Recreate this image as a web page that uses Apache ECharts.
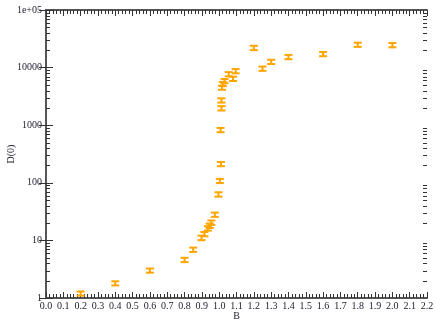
<!DOCTYPE html>
<html>
<head>
<meta charset="utf-8">
<script src="https://cdn.jsdelivr.net/npm/echarts@6/dist/echarts.min.js"></script>
<style>html,body{margin:0;padding:0;background:#fff}#c{width:435px;height:320px}</style>
</head>
<body>
<div id="c"></div>
<script>
// Data
const B = [0.2, 0.4, 0.6, 0.8, 0.85, 0.898, 0.915, 0.935, 0.945, 0.955, 0.975, 0.996, 1.004, 1.01, 1.008, 1.013, 1.013, 1.016, 1.021, 1.031, 1.055, 1.08, 1.095, 1.2, 1.25, 1.3, 1.4, 1.6, 1.8, 2.0];
const D = [1.2, 1.8, 3.0, 4.6, 6.9, 11.1, 12.9, 16.2, 18.0, 20.4, 28, 63, 108, 212, 826, 1970, 2700, 4500, 5200, 5850, 7700, 6400, 8700, 22000, 9600, 12600, 15300, 17200, 25000, 24600];
const DErr = [0.1, 0.15, 0.25, 0.4, 0.6, 1.0, 1.1, 1.4, 1.6, 1.8, 2.4, 5.5, 9, 18, 70, 170, 230, 380, 440, 500, 650, 550, 740, 1900, 820, 1070, 1300, 1450, 2100, 2100];
const xTickLabels = ['0.0','0.1','0.2','0.3','0.4','0.5','0.6','0.7','0.8','0.9','1.0','1.1','1.2','1.3','1.4','1.5','1.6','1.7','1.8','1.9','2.0','2.1','2.2'];
const yMinorTicks = [2,3,4,5,6,7,8,9,20,30,40,50,60,70,80,90,200,300,400,500,600,700,800,900,2000,3000,4000,5000,6000,7000,8000,9000,20000,30000,40000,50000,60000,70000,80000,90000];

const pts = B.map((b, i) => [b, D[i], D[i] - DErr[i], D[i] + DErr[i]]);
const axisCol = '#555';
const font = 'Liberation Serif';

const chart = echarts.init(document.getElementById('c'), null, {renderer: 'canvas'});
chart.setOption({
  animation: false,
  grid: {left: 46, right: 8, top: 10, bottom: 22, containLabel: false, outerBoundsMode: 'none'},
  xAxis: [{
    type: 'value', min: 0, max: 2.2, interval: 0.1, position: 'bottom',
    name: 'B', nameLocation: 'middle', nameGap: 13, nameMoveOverlap: false,
    nameTextStyle: {fontFamily: font, fontSize: 10, color: '#223'},
    axisLine: {lineStyle: {color: axisCol, width: 2}},
    axisTick: {inside: true, length: 6, lineStyle: {color: '#333', width: 1}},
    minorTick: {show: true, splitNumber: 5, length: 4, lineStyle: {color: '#333', width: 1}},
    axisLabel: {margin: 3, fontFamily: font, fontSize: 10, color: '#223',
      formatter: (v) => xTickLabels[Math.round(v * 10)] || ''},
    splitLine: {show: false}
  }, {
    type: 'value', min: 0, max: 2.2, interval: 0.1, position: 'top',
    axisLine: {lineStyle: {color: axisCol, width: 2}},
    axisTick: {inside: true, length: 6, lineStyle: {color: '#333', width: 1}},
    minorTick: {show: true, splitNumber: 5, length: 4, lineStyle: {color: '#333', width: 1}},
    axisLabel: {show: false}, splitLine: {show: false}
  }],
  yAxis: [{
    type: 'log', logBase: 10, min: 1, max: 100000, position: 'left',
    name: 'D(0)', nameLocation: 'middle', nameGap: 30, nameRotate: 90, nameMoveOverlap: false,
    nameTextStyle: {fontFamily: font, fontSize: 10, color: '#223'},
    axisLine: {show: true, lineStyle: {color: axisCol, width: 2}},
    axisTick: {inside: true, length: 7, lineStyle: {color: '#333', width: 1}},
    axisLabel: {margin: 4, fontFamily: font, fontSize: 10, color: '#223',
      showMinLabel: true, showMaxLabel: true,
      formatter: (v) => v >= 100000 ? '1e+05' : String(Math.round(v))},
    splitLine: {show: false}
  }, {
    type: 'log', logBase: 10, min: 1, max: 100000, position: 'right',
    axisLine: {show: true, lineStyle: {color: axisCol, width: 2}},
    axisTick: {inside: true, length: 7, lineStyle: {color: '#333', width: 1}},
    axisLabel: {show: false}, splitLine: {show: false}
  }],
  series: [{
    type: 'custom', xAxisIndex: 0, yAxisIndex: 0, silent: true,
    data: yMinorTicks.map(v => [0, v]),
    renderItem: (params, api) => {
      const cs = params.coordSys;
      const p = api.coord([0, api.value(1)]);
      const y = Math.round(p[1]) + 0.5;
      const st = {stroke: '#333', lineWidth: 1};
      return {type: 'group', children: [
        {type: 'line', shape: {x1: cs.x, y1: y, x2: cs.x + 4, y2: y}, style: st},
        {type: 'line', shape: {x1: cs.x + cs.width - 4, y1: y, x2: cs.x + cs.width, y2: y}, style: st}
      ]};
    },
    z: 1
  }, {
    type: 'custom', xAxisIndex: 0, yAxisIndex: 0,
    data: pts,
    renderItem: (params, api) => {
      const x = api.value(0);
      const c = api.coord([x, api.value(1)]);
      const lo = api.coord([x, api.value(2)]);
      const hi = api.coord([x, api.value(3)]);
      const w = 4;
      const st = {stroke: '#FFA500', lineWidth: 2};
      return {type: 'group', children: [
        {type: 'line', shape: {x1: c[0], y1: lo[1], x2: c[0], y2: hi[1]}, style: st},
        {type: 'line', shape: {x1: c[0] - w, y1: lo[1], x2: c[0] + w, y2: lo[1]}, style: st},
        {type: 'line', shape: {x1: c[0] - w, y1: hi[1], x2: c[0] + w, y2: hi[1]}, style: st}
      ]};
    },
    z: 3
  }]
});
</script>
</body>
</html>
